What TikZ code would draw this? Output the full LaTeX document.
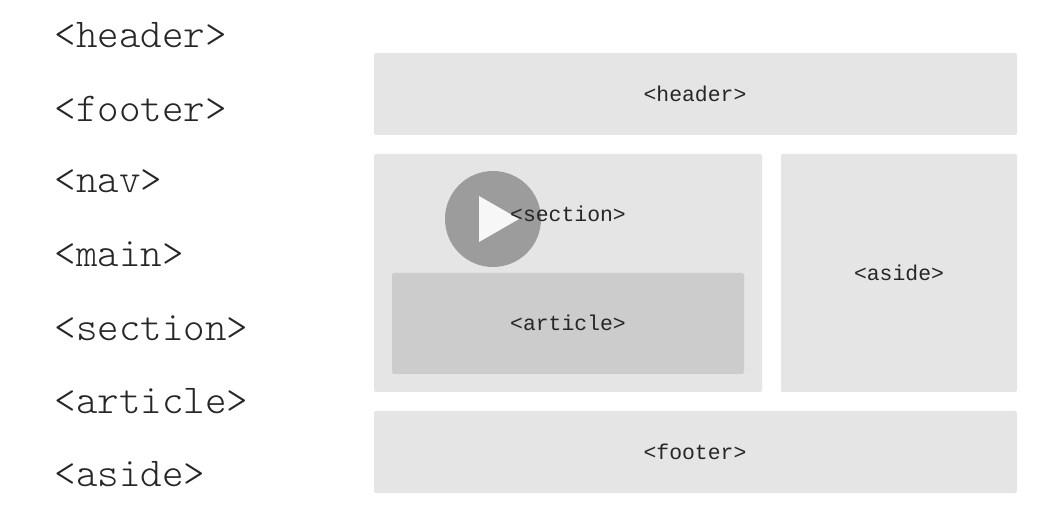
\documentclass[tikz,border=0pt]{standalone}
\usepackage{fontspec}
\setmonofont{Latin Modern Mono Light}
\newfontfamily\boxfont{Liberation Mono}
\definecolor{lightbox}{HTML}{E5E5E5}
\definecolor{darkbox}{HTML}{CCCCCC}
\definecolor{playc}{HTML}{9C9C9C}
\begin{document}
\begin{tikzpicture}[x=1pt,y=-1pt,
  listitem/.style={anchor=west,inner sep=0pt,font=\ttfamily\fontsize{41}{41}\selectfont,text=black!85},
  panel/.style={fill=lightbox,rounded corners=2pt},
  inner panel/.style={fill=darkbox,rounded corners=2pt},
  lab/.style={font=\boxfont\fontsize{21.4}{22}\selectfont,text=black!85}]
\useasboundingbox (0,0) rectangle (1061,521);
\fill[white] (0,0) rectangle (1061,521);
\node[listitem] (l1) at (54.5,35.5) {<header>};
\node[listitem] (l2) at (54.5,108.5) {<footer>};
\node[listitem] (l3) at (54.5,181.5) {<nav>};
\node[listitem] (l4) at (54.5,254.5) {<main>};
\node[listitem] (l5) at (54.5,328.5) {<section>};
\node[listitem] (l6) at (54.5,401.5) {<article>};
\node[listitem] (l7) at (54.5,474.5) {<aside>};
\fill[panel] (374,53) rectangle (1017,135);
\fill[panel] (374,154) rectangle (762,392);
\fill[panel] (781,154) rectangle (1017,392);
\fill[panel] (374,411) rectangle (1017,493);
\fill[inner panel] (392,273) rectangle (744,374);
\fill[playc] (493,219) circle (48);
\fill[white!97!black] (479,196) -- (519,219) -- (479,242) -- cycle;
\node[lab] (t1) at (695,94) {<header>};
\node[lab] (t2) at (568,214) {<section>};
\node[lab] (t3) at (568,323) {<article>};
\node[lab] (t4) at (899,273) {<aside>};
\node[lab] (t5) at (695,452) {<footer>};
\end{tikzpicture}
\end{document}
